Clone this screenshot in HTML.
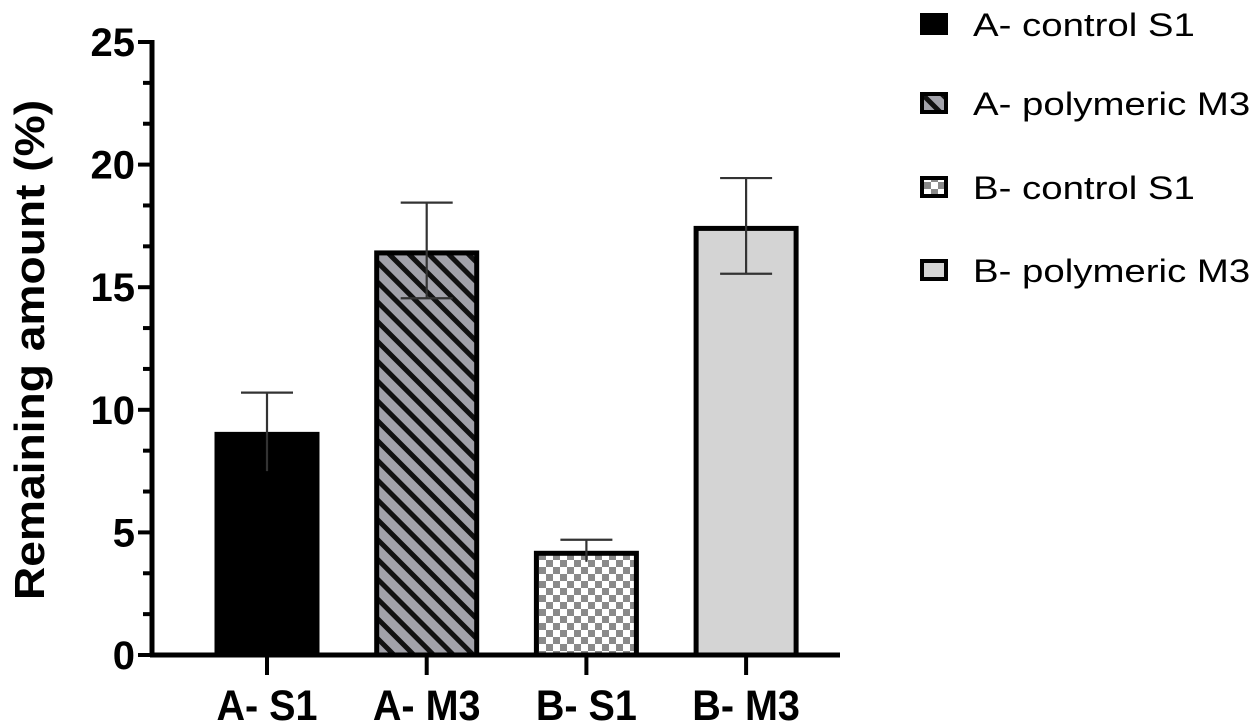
<!DOCTYPE html>
<html><head><meta charset="utf-8"><style>
html,body{margin:0;padding:0;background:#fff;}
svg{display:block;font-family:"Liberation Sans",Arial,sans-serif;}
</style></head><body>
<svg id="chart" width="1260" height="728" viewBox="0 0 1260 728">
<defs>
<pattern id="stripes" patternUnits="userSpaceOnUse" width="14" height="14" patternTransform="rotate(45)">
<rect width="14" height="14" fill="#a2a2aa"/><rect width="14" height="5" y="0" fill="#111"/>
</pattern>
<pattern id="checker" patternUnits="userSpaceOnUse" width="14" height="14">
<rect width="14" height="14" fill="#fff"/><rect width="7" height="7" fill="#8a8a8a"/><rect x="7" y="7" width="7" height="7" fill="#8a8a8a"/>
</pattern>
</defs>
<g id="plot"></g>
</svg>
<script>
const categories = ["A- S1","A- M3","B- S1","B- M3"];
const values = [9.1, 16.5, 4.25, 17.5];
const errors = [1.6, 1.95, 0.45, 1.95];
const yTicks = [0,5,10,15,20,25];
const legendLabels = ["A- control S1","A- polymeric M3","B- control S1","B- polymeric M3"];
const fills = ["#000","url(#stripes)","url(#checker)","#d4d4d4"];

const NS="http://www.w3.org/2000/svg";
const g=document.getElementById('plot');
const x0=152, y0=655, yTop=42, yMax=25;
const catStart=267, catStep=159.7, barW=105;
function yScale(v){return y0-(v/yMax)*(y0-yTop);}
function xScale(i){return catStart+i*catStep;}
function mk(tag,attrs,parent){const e=document.createElementNS(NS,tag);for(const k in attrs)e.setAttribute(k,attrs[k]);(parent||g).appendChild(e);return e;}

// bars
values.forEach((v,i)=>{
  const cx=xScale(i), top=yScale(v);
  const r=mk('rect',{x:cx-barW/2+(i?2.5:0),y:top+(i?2.5:0),width:barW-(i?5:0),height:y0-top-(i?2.5:0),fill:fills[i],stroke:i?'#000':'none','stroke-width':i?5:0});
  
  
  const e=errors[i], yt=yScale(v+e), yb=yScale(Math.max(0,v-e));
  const eg=mk('g',{stroke:'#333','stroke-width':2.2,fill:'none'});
  
  
  mk('line',{x1:cx,x2:cx,y1:yt,y2:yb},eg);
  mk('line',{x1:cx-26,x2:cx+26,y1:yt,y2:yt},eg);
  if(i>0&&i!==2) mk('line',{x1:cx-26,x2:cx+26,y1:yb,y2:yb},eg);
});

// axes
const ax=mk('line',{x1:x0,x2:x0,y1:yTop-2,y2:y0+2,stroke:'#000','stroke-width':5});


const xa=mk('line',{x1:x0-2,x2:840,y1:y0,y2:y0,stroke:'#000','stroke-width':5});


for(let k=0;k<=15;k++){
  const v=k*5/3, y=yScale(v);
  mk('line',{x1:x0-(k%3===0?14:9),x2:x0,y1:y,y2:y,stroke:'#000','stroke-width':4});
}
yTicks.forEach(v=>{
  const t=mk('text',{x:x0-17,y:yScale(v)+14,'text-anchor':'end','font-size':40,'font-weight':'bold'});
  t.textContent=v;
  
  
});
categories.forEach((c,i)=>{
  const cx=xScale(i);
  mk('line',{x1:cx,x2:cx,y1:y0,y2:y0+20,stroke:'#000','stroke-width':4});
  const t=mk('text',{x:cx,y:720,'text-anchor':'middle','font-size':43,'font-weight':'bold',transform:`translate(${cx} 0) scale(0.92 1) translate(${-cx} 0)`});
  t.textContent=c;
  
  
});
const yt=mk('text',{x:0,y:0,'text-anchor':'middle','font-size':42,'font-weight':'bold',transform:'translate(44 350) rotate(-90) scale(1.1 1)'});
yt.textContent='Remaining amount (%)';



// legend
const legY=[24,103,187,270];
legendLabels.forEach((l,i)=>{
  const lg=mk('g',{});
  
  
  mk('rect',{x:920+(i?2:0),y:legY[i]-11+(i?2:0),width:28-(i?4:0),height:22-(i?4:0),fill:fills[i],stroke:i?'#000':'none','stroke-width':i?4:0},lg);
  const t=mk('text',{x:973,y:legY[i]+12,'font-size':32,transform:`translate(973 0) scale(1.2 1) translate(-973 0)`},lg);
  t.textContent=l;
});
</script>
</body></html>
